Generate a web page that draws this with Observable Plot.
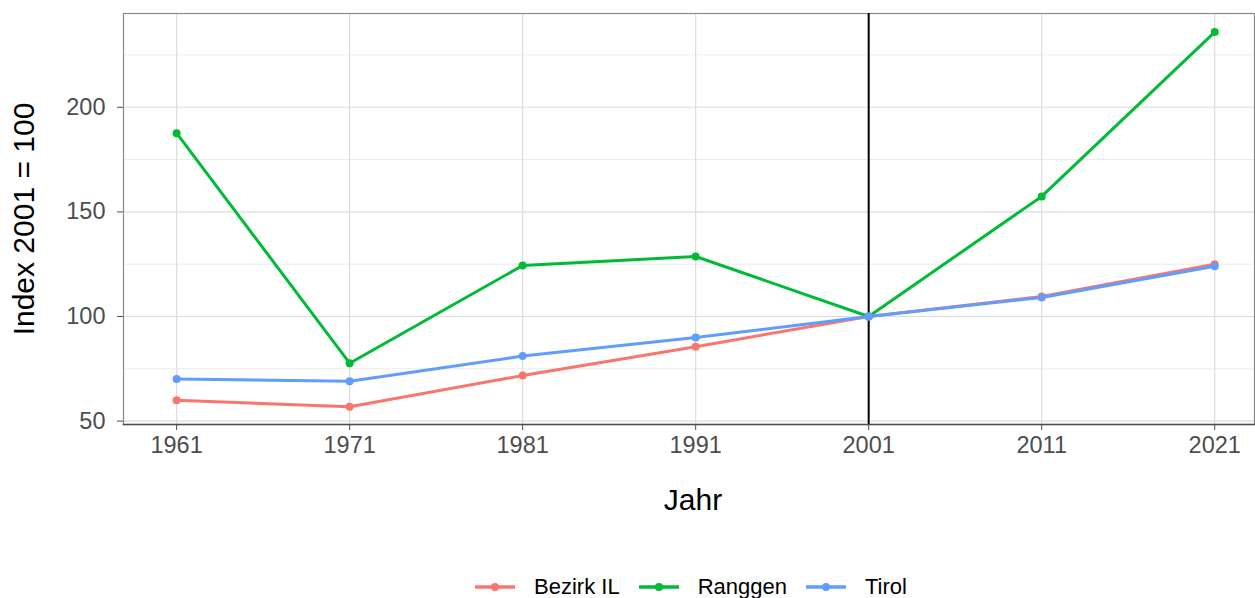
<!DOCTYPE html>
<html>
<head>
<meta charset="utf-8">
<script src="https://cdn.jsdelivr.net/npm/d3@7"></script>
<script src="https://cdn.jsdelivr.net/npm/@observablehq/plot@0.6"></script>
<style>
  html, body { margin: 0; padding: 0; background: #fff; }
  body { width: 1255px; height: 598px; overflow: hidden; font-family: "Liberation Sans", Arial, sans-serif; }
  #legend { margin-left: 126px; width: 1130px; height: 38px; box-sizing: border-box; padding-top: 15px;
            display: flex; justify-content: center; align-items: center; }
  #legend .item { display: flex; align-items: center; height: 22px; margin: 0 9.5px; }
  #legend .item svg { margin-right: 19px; }
  #legend .item span { font-size: 22px; color: #000; line-height: 22px; }
</style>
</head>
<body>
<div id="chart"></div>
<div id="legend"></div>
<script>
const years = [1961, 1971, 1981, 1991, 2001, 2011, 2021];
const seriesNames = ["Bezirk IL", "Ranggen", "Tirol"];
const seriesColors = ["#F8766D", "#00BA38", "#619CFF"];
const bezirkIL = [60.0, 56.9, 71.8, 85.6, 100, 109.6, 125.0];
const ranggen  = [187.6, 77.7, 124.4, 128.7, 100, 157.4, 235.9];
const tirol    = [70.1, 69.1, 81.1, 90.0, 100, 109.1, 124.0];
const yTicks = [50, 100, 150, 200];
const yMinor = [75, 125, 175, 225];
const refYear = [2001];
const xTitle = "Jahr";
const yTitle = "Index 2001 = 100";

const seriesValues = [bezirkIL, ranggen, tirol];
const data = seriesNames.flatMap((name, i) =>
  years.map((year, j) => ({ series: name, year, value: seriesValues[i][j] })));

const W = 1255, H = 560;
const plot = Plot.plot({
  width: W, height: H,
  marginLeft: 123, marginRight: 1, marginTop: 13, marginBottom: H - 424,
  style: { fontFamily: "'Liberation Sans', Arial, sans-serif", background: "#fff" },
  x: { domain: [1957.93, 2023.3] },
  y: { domain: [48.4, 244.8] },
  color: { domain: seriesNames, range: seriesColors },
  marks: [
    Plot.ruleY(yMinor, { stroke: "#ebebeb", strokeWidth: 1 }),
    Plot.ruleY(yTicks, { stroke: "#dcdcdc", strokeWidth: 1.2 }),
    Plot.ruleX(years, { stroke: "#dcdcdc", strokeWidth: 1.2 }),
    Plot.frame({ stroke: "#8a8a8a", strokeWidth: 1.2 }),
    Plot.ruleX(refYear, { stroke: "#000", strokeWidth: 2 }),
    Plot.line(data, { x: "year", y: "value", z: "series", stroke: "series", strokeWidth: 3 }),
    Plot.dot(data, { x: "year", y: "value", fill: "series", r: 4 }),
    Plot.axisX({ ticks: years, tickFormat: d => String(d), tickSize: 6, tickPadding: 6,
                 fontSize: 23.5, color: "#4d4d4d", label: null }),
    Plot.axisY({ ticks: yTicks, tickSize: 6, tickPadding: 12,
                 fontSize: 23.5, color: "#4d4d4d", label: null }),
    Plot.frame({ anchor: "bottom", stroke: "#4d4d4d", strokeWidth: 1.6 }),
    Plot.text([xTitle], { frameAnchor: "bottom", dx: 4, dy: 76, text: d => d, fontSize: 30, fill: "#000", lineAnchor: "middle" }),
    Plot.text([yTitle], { frameAnchor: "left", dx: -99, rotate: -90, textAnchor: "middle", text: d => d, fontSize: 30, fill: "#000", lineAnchor: "middle" })
  ]
});
document.getElementById("chart").appendChild(plot);

const legend = document.getElementById("legend");
seriesNames.forEach((name, i) => {
  const item = document.createElement("div");
  item.className = "item";
  item.innerHTML = `<svg width="40" height="12"><line x1="0" x2="40" y1="6" y2="6" stroke="${seriesColors[i]}" stroke-width="3.5"/><circle cx="20" cy="6" r="4" fill="${seriesColors[i]}"/></svg><span>${name}</span>`;
  legend.appendChild(item);
});
</script>
</body>
</html>
